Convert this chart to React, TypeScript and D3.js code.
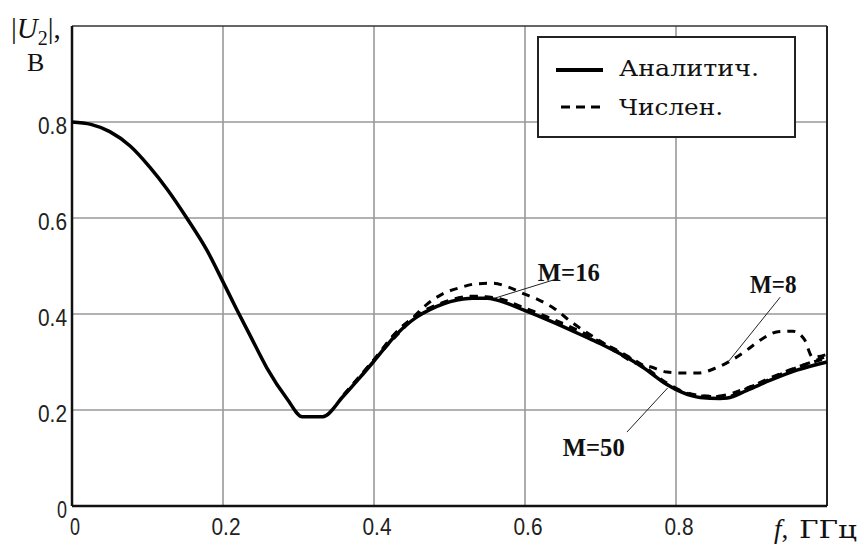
import React, { useMemo } from "react";
import * as d3 from "d3";

const WIDTH = 864;
const HEIGHT = 547;

// analytic solution |U2| (V) vs frequency (GHz)
const analyticF = [
  0, 0.025, 0.05, 0.077, 0.103, 0.126, 0.152, 0.179, 0.2, 0.218, 0.236, 0.258,
  0.285, 0.305, 0.332, 0.359, 0.381, 0.399, 0.43, 0.457, 0.474, 0.51, 0.53,
  0.55, 0.563, 0.597, 0.637, 0.682, 0.7, 0.726, 0.756, 0.788, 0.809, 0.832,
  0.858, 0.868, 0.894, 0.925, 0.96, 1.0,
];
const analyticU = [
  0.8, 0.795, 0.78, 0.75, 0.706, 0.66, 0.6, 0.532, 0.467, 0.41, 0.355, 0.288,
  0.223, 0.186, 0.186, 0.228, 0.267, 0.3, 0.358, 0.394, 0.409, 0.429, 0.433,
  0.433, 0.429, 0.409, 0.383, 0.351, 0.338, 0.317, 0.289, 0.253, 0.236, 0.226,
  0.224, 0.225, 0.241, 0.262, 0.283, 0.3,
];

// numerical solutions for M = 50, 16, 8
const m50F = [
  0.36, 0.4, 0.43, 0.457, 0.49, 0.53, 0.563, 0.597, 0.637, 0.682, 0.726, 0.756,
  0.788, 0.832, 0.868, 0.894, 0.925, 0.96, 1.0,
];
const m50U = [
  0.231, 0.304, 0.362, 0.397, 0.422, 0.436, 0.432, 0.413, 0.387, 0.355, 0.321,
  0.293, 0.256, 0.229, 0.228, 0.245, 0.267, 0.289, 0.308,
];

const m16F = [
  0.36, 0.4, 0.44, 0.47, 0.491, 0.514, 0.536, 0.558, 0.578, 0.597, 0.62, 0.64,
  0.66, 0.7, 0.75, 0.8, 0.85, 0.9, 0.95, 1.0,
];
const m16U = [
  0.231, 0.304, 0.372, 0.42, 0.442, 0.455, 0.463, 0.464, 0.456, 0.443, 0.428,
  0.41, 0.385, 0.343, 0.297, 0.243, 0.228, 0.249, 0.282, 0.312,
];

const m8F = [
  0.36, 0.4, 0.43, 0.457, 0.49, 0.53, 0.563, 0.597, 0.637, 0.682, 0.72, 0.743,
  0.766, 0.788, 0.809, 0.829, 0.852, 0.874, 0.894, 0.914, 0.935, 0.955, 0.97,
  0.981, 1.0,
];
const m8U = [
  0.232, 0.305, 0.363, 0.398, 0.423, 0.437, 0.433, 0.414, 0.389, 0.357, 0.322,
  0.3, 0.29, 0.279, 0.277, 0.277, 0.287, 0.304, 0.325, 0.348, 0.363, 0.364,
  0.347, 0.31, 0.316,
];

const xTicks = [0, 0.2, 0.4, 0.6, 0.8];
const xTickLabels = ["0", "0.2", "0.4", "0.6", "0.8"];
const yTicks = [0, 0.2, 0.4, 0.6, 0.8];
const yTickLabels = ["0", "0.2", "0.4", "0.6", "0.8"];

const legendLabels = ["Аналитич.", "Числен."];

// callouts: label, text anchor (f, U), leader line from -> to (f, U)
const calloutLabels = ["M=16", "M=8", "M=50"];
const calloutText = [
  [0.617, 0.469],
  [0.898, 0.444],
  [0.65, 0.104],
];
const calloutFrom = [
  [0.642, 0.473],
  [0.938, 0.435],
  [0.735, 0.154],
];
const calloutTo = [
  [0.56, 0.433],
  [0.869, 0.3],
  [0.789, 0.246],
];

const zip = (fs: number[], us: number[]) => fs.map((f, i) => [f, us[i]] as [number, number]);

const Chart = () => {
  const x = useMemo(() => d3.scaleLinear().domain([0, 1]).range([72, 827]), []);
  const y = useMemo(() => d3.scaleLinear().domain([0, 1]).range([506, 26]), []);

  const line = d3
    .line<[number, number]>()
    .x((d) => x(d[0]))
    .y((d) => y(d[1]))
    .curve(d3.curveMonotoneX);

  const numeric = [zip(m50F, m50U), zip(m16F, m16U), zip(m8F, m8U)];

  const tickFont = "'Liberation Sans', Arial, sans-serif";
  const serif = "'Liberation Serif', 'Times New Roman', serif";
  const slab = "'DejaVu Serif', serif";

  return (
    <svg
      width={WIDTH}
      height={HEIGHT}
      style={{ position: "absolute", left: 0, top: 0, background: "#fff" }}
    >
      {/* grid */}
      {xTicks.slice(1).map((t) => (
        <line key={"gx" + t} x1={x(t)} x2={x(t)} y1={y(0)} y2={y(1)} stroke="#999" strokeWidth={1.6} />
      ))}
      {yTicks.slice(1).map((t) => (
        <line key={"gy" + t} x1={x(0)} x2={x(1)} y1={y(t)} y2={y(t)} stroke="#999" strokeWidth={1.6} />
      ))}

      {/* frame */}
      <line x1={x(0)} x2={x(1)} y1={y(1)} y2={y(1)} stroke="#333" strokeWidth={1.5} />
      <line x1={x(1)} x2={x(1)} y1={y(1)} y2={y(0)} stroke="#222" strokeWidth={2} />
      <line x1={x(0)} x2={x(0)} y1={y(1)} y2={y(0)} stroke="#111" strokeWidth={2.5} />
      <line x1={x(0)} x2={x(1)} y1={y(0)} y2={y(0)} stroke="#111" strokeWidth={2.5} />

      {/* tick labels */}
      {xTicks.map((t, i) => (
        <text
          key={"xt" + t}
          x={x(t) + 3}
          y={y(0) + 29}
          textAnchor="middle"
          fontFamily={tickFont}
          fontSize={23}
          fill="#222"
          textLength={xTickLabels[i].length > 1 ? 29 : 10}
          lengthAdjust="spacingAndGlyphs"
        >
          {xTickLabels[i]}
        </text>
      ))}
      {yTicks.map((t, i) => (
        <text
          key={"yt" + t}
          x={67}
          y={y(t) + 11.5}
          textAnchor="end"
          fontFamily={tickFont}
          fontSize={23}
          fill="#222"
          textLength={yTickLabels[i].length > 1 ? 29 : 10}
          lengthAdjust="spacingAndGlyphs"
        >
          {yTickLabels[i]}
        </text>
      ))}

      {/* curves */}
      <path d={line(zip(analyticF, analyticU)) || ""} fill="none" stroke="#000" strokeWidth={3.5} strokeLinejoin="round" />
      {numeric.map((d, i) => (
        <path
          key={"num" + i}
          d={line(d) || ""}
          fill="none"
          stroke="#000"
          strokeWidth={3}
          strokeDasharray="8 7"
        />
      ))}

      {/* callouts */}
      {calloutLabels.map((label, i) => (
        <g key={label}>
          <line
            x1={x(calloutFrom[i][0])}
            y1={y(calloutFrom[i][1])}
            x2={x(calloutTo[i][0])}
            y2={y(calloutTo[i][1])}
            stroke="#222"
            strokeWidth={1}
          />
          <text
            x={x(calloutText[i][0])}
            y={y(calloutText[i][1])}
            fontFamily={serif}
            fontWeight="bold"
            fontSize={25}
            fill="#111"
            textLength={label.length * 15.5}
            lengthAdjust="spacingAndGlyphs"
          >
            {label}
          </text>
        </g>
      ))}

      {/* legend */}
      <rect x={538} y={37} width={257} height={100} fill="#fff" stroke="#222" strokeWidth={2} />
      <line x1={556} x2={603} y1={70} y2={70} stroke="#000" strokeWidth={4} />
      <line x1={561} x2={603} y1={107} y2={107} stroke="#000" strokeWidth={3} strokeDasharray="9 6" />
      <text
        x={619}
        y={76}
        fontFamily={slab}
        fontSize={22}
        fill="#111"
        textLength={140}
        lengthAdjust="spacingAndGlyphs"
      >
        {legendLabels[0]}
      </text>
      <text
        x={619}
        y={115}
        fontFamily={slab}
        fontSize={22}
        fill="#111"
        textLength={104}
        lengthAdjust="spacingAndGlyphs"
      >
        {legendLabels[1]}
      </text>

      {/* axis titles */}
      <text x={11} y={38} fontFamily={serif} fontSize={29} fill="#111">
        <tspan>|</tspan>
        <tspan fontStyle="italic">U</tspan>
        <tspan fontSize={20} dy={7}>2</tspan>
        <tspan dy={-7}>|,</tspan>
      </text>
      <text x={27} y={71} fontFamily={serif} fontSize={26} fill="#111">
        В
      </text>
      <text x={774} y={538} fontFamily={serif} fontSize={27} fill="#111">
        <tspan fontStyle="italic">f</tspan>
        <tspan>,</tspan>
      </text>
      <text
        x={799}
        y={538}
        fontFamily={slab}
        fontSize={24}
        fill="#111"
        textLength={58}
        lengthAdjust="spacingAndGlyphs"
      >
        ГГц
      </text>
    </svg>
  );
};

export default function App() {
  return <Chart />;
}
